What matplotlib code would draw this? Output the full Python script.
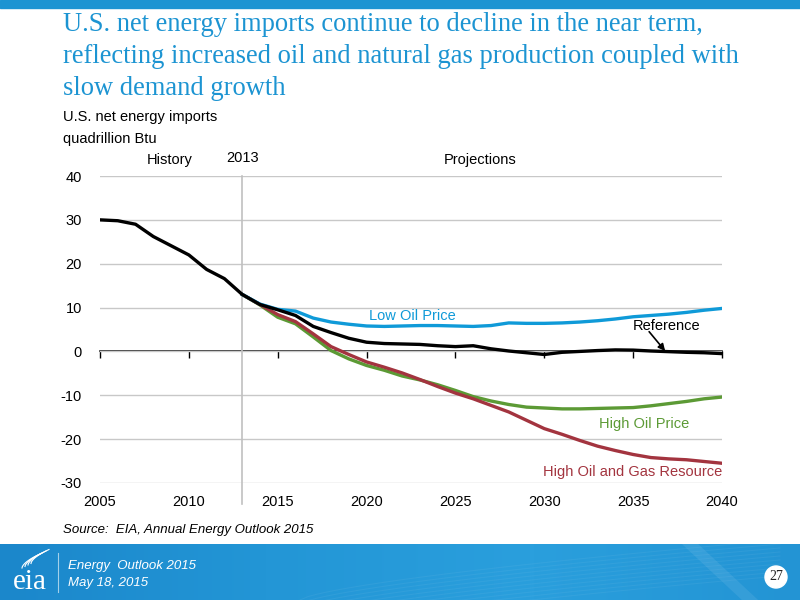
import numpy as np
import matplotlib.pyplot as plt
from matplotlib.patches import Rectangle, Circle
from matplotlib.colors import LinearSegmentedColormap

# data (quadrillion Btu)
years = list(range(2005, 2041))
proj_years = list(range(2013, 2041))
history_end = 2013

reference = [30.0, 29.8, 29.0, 26.2, 24.1, 22.0, 18.7, 16.6, 13.0, 10.7,
             9.5, 8.2, 5.7, 4.3, 3.0, 2.1, 1.8, 1.7, 1.6, 1.3,
             1.1, 1.3, 0.6, 0.1, -0.3, -0.7, -0.2, 0.0, 0.2, 0.35,
             0.3, 0.1, -0.05, -0.2, -0.3, -0.5]
low_oil_price = [13.0, 10.8, 9.6, 9.2, 7.6, 6.7, 6.2, 5.8, 5.7, 5.8,
                 5.9, 5.9, 5.8, 5.7, 5.9, 6.5, 6.4, 6.4, 6.5, 6.7,
                 7.0, 7.4, 7.9, 8.2, 8.5, 8.9, 9.4, 9.8]
high_oil_price = [13.0, 10.6, 7.8, 6.3, 3.3, 0.2, -1.7, -3.2, -4.3, -5.6,
                  -6.5, -7.6, -8.9, -10.3, -11.3, -12.1, -12.7, -12.9, -13.1, -13.1,
                  -13.0, -12.9, -12.8, -12.4, -11.9, -11.4, -10.8, -10.4]
high_resource = [13.0, 10.7, 8.4, 6.8, 4.0, 1.1, -0.7, -2.4, -3.6, -4.9,
                 -6.4, -8.0, -9.5, -10.8, -12.3, -13.8, -15.7, -17.6, -18.9, -20.3,
                 -21.6, -22.6, -23.5, -24.2, -24.5, -24.7, -25.1, -25.5]

xticks = [2005, 2010, 2015, 2020, 2025, 2030, 2035, 2040]
yticks = [-30, -20, -10, 0, 10, 20, 30, 40]

TITLE_BLUE = '#1c94d2'
BLUE = '#0f9ad8'
GREEN = '#5c9a35'
RED = '#a3343f'

plt.rcParams['font.family'] = ['Liberation Sans', 'DejaVu Sans']
plt.rcParams['axes.unicode_minus'] = False

fig = plt.figure(figsize=(8, 6), dpi=100)


def fx(px):
    return px / 800


def fy(py):
    return 1 - py / 600


# thin bar at top of slide
fig.patches.append(Rectangle((0, fy(8)), 1, 8 / 600, transform=fig.transFigure,
                             color=TITLE_BLUE, zorder=0))

title_lines = ['U.S. net energy imports continue to decline in the near term,',
               'reflecting increased oil and natural gas production coupled with',
               'slow demand growth']
for line, base in zip(title_lines, [31, 63, 95]):
    fig.text(fx(63), fy(base), line, family='Liberation Serif', size=19.1,
             color=TITLE_BLUE, va='baseline')

fig.text(fx(63), fy(121), 'U.S. net energy imports', size=10.5, va='baseline')
fig.text(fx(63), fy(143), 'quadrillion Btu', size=10.5, va='baseline')

# main chart
ax = fig.add_axes([fx(100), fy(483), fx(722) - fx(100), (483 - 176) / 600])
ax.set_xlim(2005, 2040)
ax.set_ylim(-30, 40)
for s in ax.spines.values():
    s.set_visible(False)
ax.set_xticks(xticks)
ax.set_yticks(yticks)
ax.tick_params(length=0, labelsize=10.5)
ax.tick_params(axis='y', pad=13)
ax.tick_params(axis='x', pad=9)
ax.grid(axis='y', color='#c8c8c8', lw=1)
ax.set_axisbelow(True)

# zero line with tick marks
zero = ax.secondary_xaxis(30 / 70)
zero.set_xticks(xticks)
zero.tick_params(length=5, width=1, direction='out', labelbottom=False, labeltop=False)
for s in zero.spines.values():
    s.set_linewidth(1.1)

ax.plot([history_end, history_end], [40, -34.7], color='#c0c0c0', lw=1.2, clip_on=False)

ax.plot(proj_years, high_oil_price, color=GREEN, lw=2.4)
ax.plot(proj_years, high_resource, color=RED, lw=2.4)
ax.plot(proj_years, low_oil_price, color=BLUE, lw=2.4)
ax.plot(years, reference, color='black', lw=2.4)

ax.text(2022.6, 8.0, 'Low Oil Price', color=BLUE, size=10.5, ha='center', va='center')
ax.text(2035.6, -16.6, 'High Oil Price', color=GREEN, size=10.5, ha='center', va='center')
ax.text(2040, -27.6, 'High Oil and Gas Resource', color=RED, size=10.5, ha='right', va='center')
ax.text(2036.9, 5.9, 'Reference', size=10.5, ha='center', va='center')
ax.annotate('', xy=(2036.8, 0.1), xytext=(2035.9, 4.5),
            arrowprops=dict(arrowstyle='-|>', color='black', lw=1.2,
                            shrinkA=0, shrinkB=0, mutation_scale=10))

ax.text(2008.9, 43.6, 'History', size=10.5, ha='center', va='center', clip_on=False)
ax.text(history_end, 44.1, '2013', size=10.5, ha='center', va='center', clip_on=False)
ax.text(2026.4, 43.6, 'Projections', size=10.5, ha='center', va='center', clip_on=False)

fig.text(fx(63), fy(530), 'Source:  EIA, Annual Energy Outlook 2015', style='italic',
         size=9.5, va='center')

# footer band
fax = fig.add_axes([0, 0, 1, 56 / 600])
fax.set_xlim(0, 800)
fax.set_ylim(600, 544)
fax.axis('off')
cmap = LinearSegmentedColormap.from_list('band', ['#1b87cb', '#2396d6', '#2a9fdd', '#2394d4'])
grad = np.linspace(0, 1, 400).reshape(1, -1)
fax.imshow(grad, cmap=cmap, extent=[0, 800, 600, 544], aspect='auto')
t = np.linspace(0, 1, 60)
for i in range(10):
    fax.plot(300 + 480 * t, 600 - 60 * t ** 0.7 + i * 4, color='white', alpha=0.05, lw=0.8)
fax.plot(690 + 60 * t, 544 + 56 * t, color='white', alpha=0.08, lw=8)

# eia logo
fax.text(13, 589, 'eia', family='Liberation Serif', size=21, color='white', va='baseline')
for i in range(4):
    sx = 22 + i * 3
    fax.plot(sx + 18 * t, 568 - 14 * t ** 0.6 - i * 1.5, color='white', lw=0.8)
fax.plot([58, 58], [553, 592], color='white', alpha=0.6, lw=0.8)

fax.text(68, 566, 'Energy  Outlook 2015', color='white', style='italic', size=9.5, va='center')
fax.text(68, 583, 'May 18, 2015', color='white', style='italic', size=9.5, va='center')

fax.add_patch(Circle((776, 577), 11, color='white'))
fax.text(776, 577, '27', family='Liberation Serif', size=10, color='#222222',
         ha='center', va='center')

fig.savefig('out.png', dpi=100)
